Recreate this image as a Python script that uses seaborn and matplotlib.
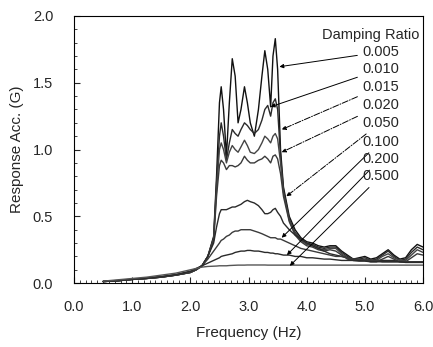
import pandas as pd
import matplotlib
matplotlib.use('Agg')
import matplotlib.pyplot as plt
from matplotlib.ticker import MultipleLocator, FormatStrFormatter
import seaborn as sns

sns.set_style('ticks')
plt.rcParams['font.family'] = ['Liberation Sans', 'DejaVu Sans']

# frequency grid (Hz)
freq = [0.5, 0.75, 1.0, 1.25, 1.5, 1.75, 2.0, 2.1, 2.2, 2.3,
        2.4, 2.45, 2.5, 2.53, 2.57, 2.62, 2.67, 2.72, 2.77, 2.82,
        2.87, 2.93, 2.98, 3.03, 3.1, 3.17, 3.23, 3.28, 3.33, 3.38,
        3.42, 3.46, 3.5, 3.55, 3.6, 3.7, 3.8, 3.9, 4.0, 4.1,
        4.2, 4.3, 4.4, 4.5, 4.6, 4.7, 4.8, 4.9, 5.0, 5.1,
        5.2, 5.3, 5.4, 5.5, 5.6, 5.7, 5.8, 5.9, 6.0]

# response acceleration (G) for each damping ratio
acc_0005 = [0.012, 0.018, 0.028, 0.035, 0.045, 0.06, 0.08, 0.1, 0.13, 0.2,
            0.35, 0.8, 1.35, 1.47, 1.3, 0.95, 1.35, 1.68, 1.55, 1.2,
            1.3, 1.47, 1.35, 1.2, 1.1, 1.3, 1.55, 1.74, 1.6, 1.32,
            1.7, 1.83, 1.6, 1.0, 0.72, 0.5, 0.4, 0.34, 0.31, 0.3,
            0.28, 0.27, 0.28, 0.28, 0.24, 0.21, 0.18, 0.19, 0.2, 0.18,
            0.19, 0.22, 0.25, 0.21, 0.18, 0.19, 0.25, 0.29, 0.27]
acc_0010 = [0.012, 0.018, 0.028, 0.035, 0.045, 0.06, 0.08, 0.1, 0.13, 0.2,
            0.34, 0.75, 1.1, 1.2, 1.1, 0.92, 1.05, 1.15, 1.12, 1.1,
            1.15, 1.2, 1.18, 1.15, 1.12, 1.15, 1.22, 1.3, 1.33, 1.25,
            1.35, 1.38, 1.3, 0.95, 0.7, 0.48, 0.38, 0.33, 0.3, 0.29,
            0.27, 0.26, 0.27, 0.27, 0.23, 0.2, 0.18, 0.18, 0.19, 0.17,
            0.18, 0.21, 0.24, 0.2, 0.17, 0.18, 0.23, 0.27, 0.25]
acc_0015 = [0.012, 0.018, 0.028, 0.035, 0.045, 0.06, 0.08, 0.1, 0.13, 0.2,
            0.33, 0.7, 1.0, 1.05, 1.0, 0.9, 0.98, 1.03, 1.0, 0.98,
            1.02, 1.07, 1.03, 0.98, 0.97, 1.0, 1.05, 1.1, 1.08, 1.05,
            1.1, 1.12, 1.08, 0.9, 0.68, 0.47, 0.37, 0.32, 0.29, 0.28,
            0.26, 0.25, 0.26, 0.26, 0.22, 0.19, 0.17, 0.17, 0.18, 0.17,
            0.17, 0.2, 0.22, 0.19, 0.17, 0.17, 0.21, 0.25, 0.23]
acc_0020 = [0.012, 0.018, 0.028, 0.035, 0.045, 0.06, 0.08, 0.1, 0.13, 0.2,
            0.32, 0.65, 0.88, 0.92, 0.9, 0.85, 0.88, 0.88, 0.87, 0.88,
            0.9, 0.95, 0.92, 0.9, 0.9, 0.92, 0.93, 0.95, 0.93, 0.9,
            0.95, 0.96, 0.93, 0.82, 0.65, 0.46, 0.36, 0.31, 0.28, 0.27,
            0.25, 0.24, 0.25, 0.24, 0.21, 0.18, 0.17, 0.17, 0.17, 0.16,
            0.16, 0.18, 0.2, 0.18, 0.16, 0.16, 0.19, 0.22, 0.21]
acc_0050 = [0.012, 0.018, 0.028, 0.036, 0.047, 0.062, 0.085, 0.105, 0.13, 0.2,
            0.3, 0.42, 0.52, 0.55, 0.55, 0.55, 0.56, 0.57, 0.57, 0.58,
            0.59, 0.61, 0.62, 0.61, 0.6, 0.58, 0.55, 0.52, 0.52, 0.53,
            0.55, 0.56, 0.53, 0.5, 0.45, 0.4, 0.36, 0.33, 0.3, 0.28,
            0.26, 0.24, 0.22, 0.21, 0.2, 0.19, 0.18, 0.17, 0.17, 0.17,
            0.17, 0.17, 0.17, 0.17, 0.16, 0.16, 0.16, 0.16, 0.16]
acc_0100 = [0.012, 0.018, 0.028, 0.036, 0.047, 0.062, 0.085, 0.105, 0.13, 0.18,
            0.24, 0.27, 0.3, 0.32, 0.33, 0.35, 0.36, 0.38, 0.39, 0.39,
            0.4, 0.4, 0.4, 0.4, 0.39, 0.38, 0.37, 0.36, 0.35, 0.34,
            0.34, 0.34, 0.33, 0.33, 0.32, 0.3, 0.28, 0.26, 0.25, 0.24,
            0.23, 0.22, 0.21, 0.2, 0.2, 0.19, 0.18, 0.18, 0.17, 0.17,
            0.17, 0.16, 0.16, 0.16, 0.16, 0.16, 0.16, 0.16, 0.16]
acc_0200 = [0.013, 0.02, 0.03, 0.038, 0.05, 0.065, 0.09, 0.11, 0.13, 0.15,
            0.17, 0.18, 0.19, 0.2, 0.205, 0.21, 0.215, 0.22, 0.23, 0.235,
            0.24, 0.24, 0.245, 0.245, 0.24, 0.24, 0.235, 0.23, 0.23, 0.225,
            0.225, 0.22, 0.22, 0.215, 0.21, 0.21, 0.2, 0.2, 0.19, 0.19,
            0.185, 0.18, 0.18, 0.175, 0.17, 0.17, 0.17, 0.165, 0.165, 0.16,
            0.16, 0.16, 0.16, 0.16, 0.16, 0.155, 0.155, 0.155, 0.155]
acc_0500 = [0.015, 0.025, 0.035, 0.045, 0.06, 0.075, 0.1, 0.11, 0.12, 0.125,
            0.127, 0.128, 0.13, 0.13, 0.13, 0.13, 0.132, 0.133, 0.134, 0.135,
            0.135, 0.135, 0.136, 0.136, 0.136, 0.136, 0.136, 0.136, 0.135, 0.135,
            0.135, 0.135, 0.135, 0.135, 0.135, 0.135, 0.135, 0.135, 0.135, 0.135,
            0.135, 0.135, 0.135, 0.135, 0.135, 0.135, 0.135, 0.135, 0.135, 0.135,
            0.135, 0.135, 0.135, 0.135, 0.135, 0.135, 0.135, 0.135, 0.135]

labels = ['0.005', '0.010', '0.015', '0.020', '0.050', '0.100', '0.200', '0.500']
series = [acc_0005, acc_0010, acc_0015, acc_0020, acc_0050, acc_0100, acc_0200, acc_0500]

# where each leader arrow points on its curve (Hz, G)
arrow_x = [3.53, 3.38, 3.57, 3.57, 3.65, 3.57, 3.66, 3.71]
arrow_y = [1.62, 1.32, 1.15, 0.98, 0.65, 0.34, 0.21, 0.13]

rows = []
for lab, vals in zip(labels, series):
    for f, a in zip(freq, vals):
        rows.append({'freq': f, 'acc': a, 'damping': lab})
df = pd.DataFrame(rows)

colors = ['#111111', '#2a2a2a', '#444444', '#3a3a3a', '#2a2a2a', '#3a3a3a', '#2a2a2a', '#555555']
fig = plt.figure(figsize=(4.33, 3.47), dpi=100)
ax = fig.add_axes([0.171, 0.184, 0.806, 0.77])

sns.lineplot(data=df, x='freq', y='acc', hue='damping', palette=colors,
             linewidth=1.0, legend=False, ax=ax)

ax.set_xlim(0, 6)
ax.set_ylim(0, 2)
ax.xaxis.set_major_locator(MultipleLocator(1.0))
ax.xaxis.set_minor_locator(MultipleLocator(0.1))
ax.yaxis.set_major_locator(MultipleLocator(0.5))
ax.yaxis.set_minor_locator(MultipleLocator(0.1))
ax.xaxis.set_major_formatter(FormatStrFormatter('%.1f'))
ax.yaxis.set_major_formatter(FormatStrFormatter('%.1f'))
ax.tick_params(which='major', direction='in', length=4, width=0.8, labelsize=10.5)
ax.tick_params(axis='x', which='major', pad=12)
ax.tick_params(axis='y', which='major', pad=15)
ax.tick_params(which='minor', direction='in', length=2, width=0.6)
for s in ax.spines.values():
    s.set_linewidth(0.8)
    s.set_color('black')

ax.set_xlabel('Frequency (Hz)', fontsize=11, labelpad=9)
ax.set_ylabel('Response Acc. (G)', fontsize=11, labelpad=6)

ax.text(5.93, 1.86, 'Damping Ratio', fontsize=10.5, ha='right', va='center')
label_y = [1.73, 1.60, 1.47, 1.33, 1.20, 1.06, 0.93, 0.80]
styles = ['-', '-', '-.', '-.', '-.', '-', '-', '-']
for lab, ty, ax_, ay, ls in zip(labels, label_y, arrow_x, arrow_y, styles):
    ax.annotate(lab, xy=(ax_, ay), xytext=(4.95, ty), fontsize=10.5,
                ha='left', va='center',
                arrowprops=dict(arrowstyle='-|>', color='black', lw=0.7,
                                linestyle=ls, mutation_scale=6,
                                shrinkA=1, shrinkB=0))

fig.savefig('out.png', dpi=100)
